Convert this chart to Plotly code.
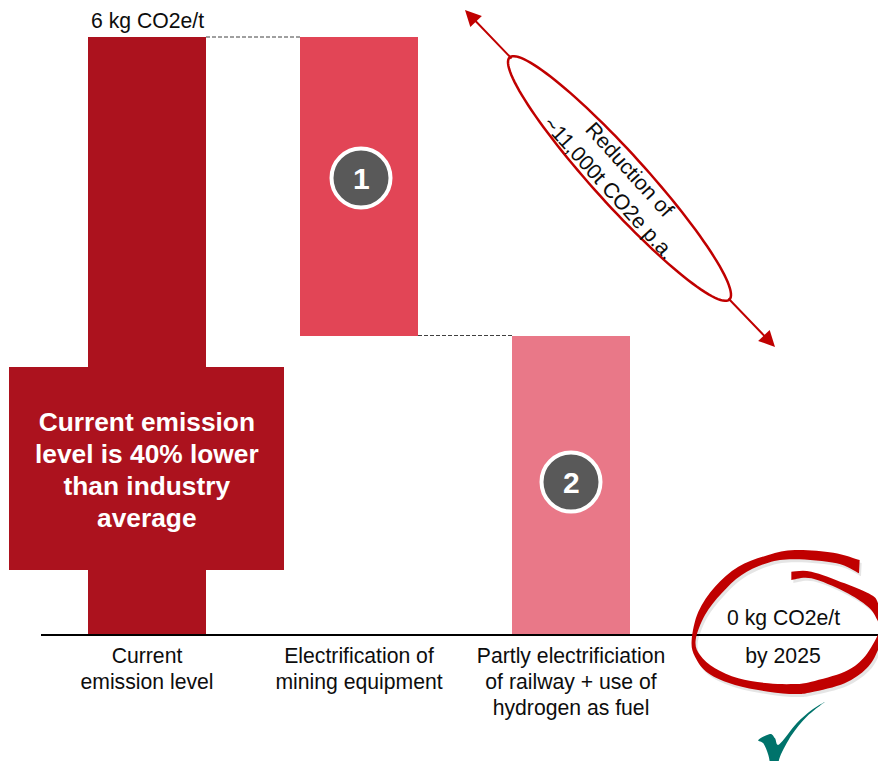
import numpy as np
import plotly.graph_objects as go

W, H = 878, 761
categories = ["Current<br>emission level", "Electrification of<br>mining equipment",
              "Partly electrificiation<br>of railway + use of<br>hydrogen as fuel", "by 2025"]
bases = [0, 3, 0, 0]
heights = [6, 3, 3, 0]
bar_colors = ["#AC121E", "#E24556", "#E97888", "#AC121E"]
end_labels = ["6 kg CO2e/t", "", "", "0 kg CO2e/t"]
callout_lines = ["Current emission", "level is 40% lower", "than industry", "average"]
reduction_text = "Reduction of<br>~11,000t CO2e p.a."

RED = "#C00000"
FONT = "Liberation Sans, Arial, sans-serif"
BAR_W = 118 / 212
TXT = 21.2


def px(x):
    return x / W


def py(y):
    return 1 - y / H


def smooth_open(points, start="M"):
    """Catmull-Rom through pixel points -> SVG path fragment in paper units."""
    p = [(px(a), py(b)) for a, b in points]
    n = len(p)
    d = f"{start}{p[0][0]:.5f},{p[0][1]:.5f}"
    for i in range(n - 1):
        p0 = p[i - 1] if i > 0 else p[i]
        p1, p2 = p[i], p[i + 1]
        p3 = p[i + 2] if i + 2 < n else p2
        c1 = (p1[0] + (p2[0] - p0[0]) / 6, p1[1] + (p2[1] - p0[1]) / 6)
        c2 = (p2[0] - (p3[0] - p1[0]) / 6, p2[1] - (p3[1] - p1[1]) / 6)
        d += f" C{c1[0]:.5f},{c1[1]:.5f} {c2[0]:.5f},{c2[1]:.5f} {p2[0]:.5f},{p2[1]:.5f}"
    return d


def band(outer, inner):
    return smooth_open(outer) + " " + smooth_open(inner, "L") + " Z"


def z(pts):
    return [(660 + a / 3, 530 + b / 3) for a, b in pts]


ring_outer = z([(599, 90), (520, 68), (405, 60), (325, 75), (235, 110), (165, 170), (115, 245),
                (95, 330), (105, 380), (145, 430), (225, 465), (325, 485), (405, 492), (454, 487),
                (554, 460), (620, 415), (654, 360), (676, 290), (654, 220), (634, 195), (554, 160),
                (454, 125), (394, 125)])
ring_inner = z([(394, 150), (454, 145), (554, 185), (624, 230), (652, 270), (656, 295), (651, 320),
                (610, 385), (554, 425), (454, 455), (405, 462), (325, 460), (235, 445), (165, 415),
                (120, 375), (107, 330), (135, 255), (185, 190), (245, 135), (325, 98), (405, 88),
                (530, 100), (597, 130)])
check_outline = z([(495, 515), (440, 560), (395, 615), (360, 680), (352, 720), (335, 720), (325, 675),
                   (310, 640), (295, 630), (330, 612), (345, 625), (358, 643), (410, 580), (455, 540), (495, 515)])

t = np.linspace(0, 2 * np.pi, 121)
ang = np.radians(47.8)
cx, cy, a_, b_ = 619.5, 178.5, 163.5, 26
ex = cx + a_ * np.cos(t) * np.cos(ang) - b_ * np.sin(t) * np.sin(ang)
ey = cy + a_ * np.cos(t) * np.sin(ang) + b_ * np.sin(t) * np.cos(ang)
ell = "M" + " L".join(f"{px(a):.5f},{py(b):.5f}" for a, b in zip(ex, ey)) + " Z"

fig = go.Figure()
xs = list(range(len(categories)))
fig.add_bar(x=xs, y=heights, base=bases, width=BAR_W, marker=dict(color=bar_colors, line_width=0),
            showlegend=False, hoverinfo="skip")

shapes = []
for i in range(2):
    level = bases[i + 1] + heights[i + 1]
    shapes.append(dict(type="line", xref="x", yref="y", x0=i + BAR_W / 2, x1=i + 1 - BAR_W / 2,
                       y0=level, y1=level, line=dict(color="#404040", width=1, dash="4px,2px")))
shapes.append(dict(type="rect", xref="paper", yref="paper", x0=px(9), x1=px(284), y0=py(570), y1=py(367),
                   fillcolor="#AC121E", line_width=0))
for bx, by in [(361, 178), (571, 482)]:
    shapes.append(dict(type="circle", xref="paper", yref="paper", x0=px(bx - 29.5), x1=px(bx + 29.5),
                       y0=py(by + 29.5), y1=py(by - 29.5), fillcolor="#595959",
                       line=dict(color="white", width=4)))
shapes.append(dict(type="path", xref="paper", yref="paper", path=ell, fillcolor="rgba(0,0,0,0)",
                   line=dict(color=RED, width=2.5)))
shapes.append(dict(type="path", xref="paper", yref="paper",
                   path=band([(a + 2, b + 3) for a, b in ring_outer], [(a + 2, b + 3) for a, b in ring_inner]),
                   fillcolor="rgba(0,0,0,0.10)", line_width=0))
shapes.append(dict(type="path", xref="paper", yref="paper", path=band(ring_outer, ring_inner),
                   fillcolor=RED, line_width=0))
shapes.append(dict(type="path", xref="paper", yref="paper", path=smooth_open(check_outline) + " Z",
                   fillcolor="#00736B", line_width=0))

callout_html = "<br>".join(f'<span style="font-size:26.3px"><b>{line}</b></span>' for line in callout_lines)
annotations = [
    dict(x=px(146.5), y=py(470), xref="paper", yref="paper", text=callout_html, showarrow=False,
         xanchor="center", yanchor="middle",
         font=dict(size=24.6, color="white", family=FONT), align="center"),
    dict(x=px(619), y=py(179), xref="paper", yref="paper", text=reduction_text, showarrow=False,
         xanchor="center", yanchor="middle",
         textangle=47.8, font=dict(size=TXT, color="#0D0D0D", family=FONT), align="center"),
]
for xi, (label, b_i, h_i) in enumerate(zip(end_labels, bases, heights)):
    if label:
        annotations.append(dict(x=xi, y=b_i + h_i, xref="x", yref="y", text=label, showarrow=False,
                                xanchor="center", yanchor="bottom", yshift=2,
                                font=dict(size=TXT, color="#0D0D0D", family=FONT)))
for label, bx, by in [("<b>1</b>", 361, 178), ("<b>2</b>", 571, 482)]:
    annotations.append(dict(x=px(bx), y=py(by), xref="paper", yref="paper", text=label, showarrow=False,
                            xanchor="center", yanchor="middle",
                            font=dict(size=30, color="white", family=FONT)))
for (x0, y0), (x1, y1) in [((513, 60), (465, 10)), ((727, 297), (775, 347))]:
    annotations.append(dict(x=px(x1), y=py(y1), xref="paper", yref="paper", ax=x0 - x1, ay=y0 - y1,
                            axref="pixel", ayref="pixel", text="", showarrow=True, arrowhead=2,
                            arrowsize=1.6, arrowwidth=2, arrowcolor=RED, standoff=0))

span = f'<span style="font-size:{TXT}px">'
ticktext = [span + c.replace("<br>", "</span><br>" + span) + "</span>" for c in categories]

fig.update_layout(
    width=W, height=H, margin=dict(l=0, r=0, t=0, b=0), autosize=False,
    paper_bgcolor="white", plot_bgcolor="white", showlegend=False,
    shapes=shapes, annotations=annotations, bargap=0,
    xaxis=dict(domain=[41 / W, 1], range=[-0.5, 3.5 - 11 / 212], tickmode="array", tickvals=xs,
               ticktext=ticktext, ticks="", showgrid=False, zeroline=False, showline=True,
               linecolor="black", linewidth=2, tickangle=0, ticklabelstandoff=3,
               tickfont=dict(size=20, color="#0D0D0D", family=FONT)),
    yaxis=dict(domain=[127 / H, 1], range=[0, 634 / 99.5], visible=False, showgrid=False, zeroline=False),
)
fig.write_html("out.html", config={"displayModeBar": False},
               post_script="document.body.style.margin='0';document.documentElement.style.overflow='hidden';")
